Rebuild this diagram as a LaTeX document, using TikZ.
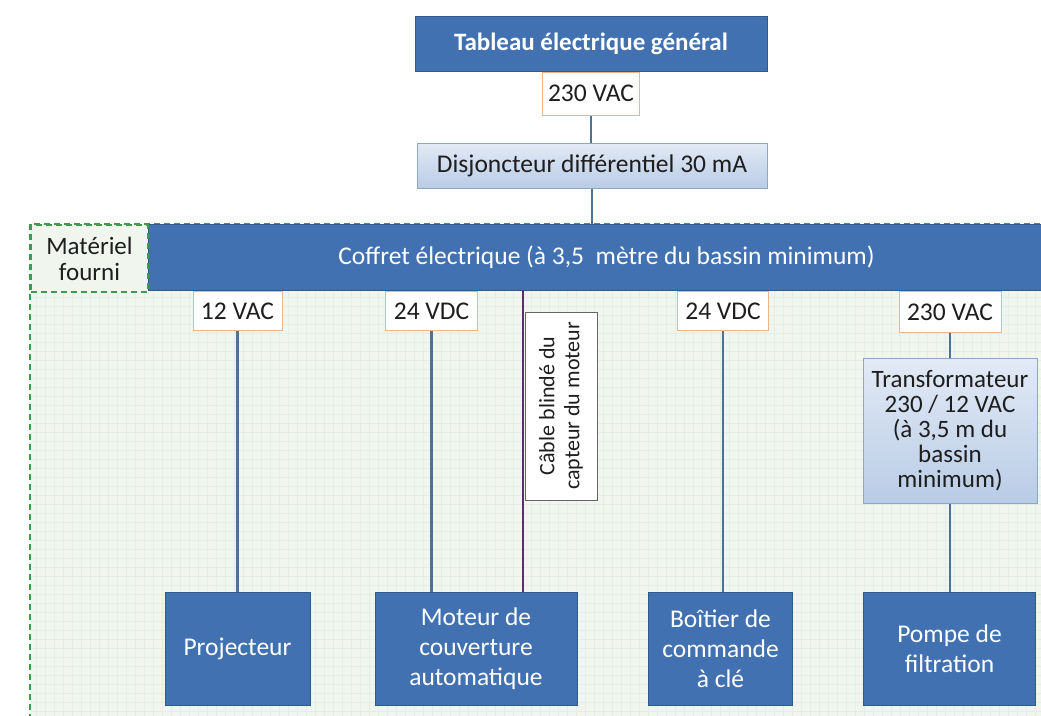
\documentclass[tikz,border=0pt]{standalone}
\usepackage{fontspec}
\setmainfont{Carlito}
\definecolor{dblue}{HTML}{4271B2}
\definecolor{dbord}{HTML}{2F5A8E}
\definecolor{lbtop}{HTML}{E2EAF5}
\definecolor{lbbot}{HTML}{B9CCE6}
\definecolor{lbord}{HTML}{8FA7C4}
\definecolor{orng}{HTML}{EFB58A}
\definecolor{gdash}{HTML}{3F9A4F}
\definecolor{gfill}{HTML}{F0F6EE}
\definecolor{ggrid}{HTML}{E6EEE3}
\definecolor{wire}{HTML}{4E7391}
\definecolor{purp}{HTML}{5A2E6A}
\definecolor{txt}{HTML}{1E1E1E}
\tikzset{
  darkbox/.style={draw=dbord, line width=1pt, fill=dblue, text=white, align=center, inner sep=2pt},
  lightbox/.style={draw=lbord, line width=1pt, top color=lbtop, bottom color=lbbot, text=txt, align=center, inner sep=2pt},
  volt/.style={draw=orng, line width=1pt, fill=white, text=txt, align=center, inner sep=2pt},
  conn/.style={draw=wire, line width=2.2pt},
  fz/.style={font=\fontsize{25.5}{30}\selectfont}
}
\begin{document}
\begin{tikzpicture}[x=1pt,y=-1pt]
\useasboundingbox (0,0) rectangle (1041,715);
\clip (0,0) rectangle (1041,715);
\fill[white] (0,0) rectangle (1041,715);
% supplied-equipment zone
\fill[gfill] (30,224) rectangle (1060,730);
\draw[ggrid, line width=0.5pt, step=9pt] (30,224) grid (1060,730);
\draw[gdash, line width=2pt, dash pattern=on 6pt off 4pt] (30,730) -- (30,224) -- (1060,224);
% top chain
\node[darkbox, minimum width=352pt, minimum height=55pt, font=\fontsize{25}{28}\selectfont\bfseries] (tab) at (591,43.5) {Tableau électrique général};
\node[volt, fz, minimum width=97pt, minimum height=43pt, anchor=north] (v1) at (tab.south) {230 VAC};
\node[lightbox, fz, minimum width=350pt, minimum height=45pt] (dis) at (592,165.5) {Disjoncteur différentiel 30 mA};
\node[darkbox, fz, minimum width=916pt, minimum height=66pt, anchor=north west] (cof) at (148,224) {Coffret électrique (à 3,5\ \ mètre du bassin minimum)};
\node[draw=gdash, line width=2pt, dash pattern=on 6pt off 4pt, fill=gfill, text=txt, align=center, minimum width=117pt, minimum height=67pt, inner sep=1pt, anchor=north west, font=\fontsize{25}{26}\selectfont] (mf) at (30,224) {Matériel\\fourni};
\draw[conn] (v1.south) -- (dis.north -| v1.south);
\draw[conn] (dis.south) -- (cof.north -| dis.south);
% voltage labels
\node[volt, fz, minimum width=89pt, minimum height=39pt, anchor=north] (l1) at (237.5,291) {12 VAC};
\node[volt, fz, minimum width=92pt, minimum height=39pt, anchor=north] (l2) at (431.5,291) {24 VDC};
\node[volt, fz, minimum width=91pt, minimum height=39pt, anchor=north] (l3) at (723,291) {24 VDC};
\node[volt, fz, minimum width=102pt, minimum height=41pt, anchor=north] (l4) at (950,291) {230 VAC};
% loads
\node[darkbox, fz, minimum width=145pt, minimum height=113pt] (proj) at (237.5,648.5) {Projecteur};
\node[darkbox, fz, minimum width=202pt, minimum height=113pt] (mot) at (476,648.5) {Moteur de\\couverture\\automatique};
\node[darkbox, fz, minimum width=144pt, minimum height=113pt] (boi) at (720.5,648.5) {Boîtier de\\commande\\à clé};
\node[darkbox, fz, minimum width=172pt, minimum height=113pt] (pom) at (949.5,648.5) {Pompe de\\filtration};
\node[lightbox, minimum width=174pt, minimum height=145pt, font=\fontsize{25}{25}\selectfont] (tr) at (950,430.5) {Transformateur\\230 / 12 VAC\\(à 3,5 m du\\bassin\\minimum)};
% wires
\draw[conn] (l1.south) -- (proj.north -| l1.south);
\draw[conn] (l2.south) -- (mot.north -| l2.south);
\draw[conn] (l3.south) -- (boi.north -| l3.south);
\draw[conn] (l4.south) -- (tr.north -| l4.south);
\draw[conn] (tr.south -| l4.south) -- (pom.north -| l4.south);
% shielded cable
\coordinate (cab) at (523,290);
\draw[purp, line width=2.2pt] (cab) -- (cab |- mot.north);
\node[draw=gray!80!black, line width=1pt, fill=white, text=txt, align=center, rotate=90, minimum width=188pt, minimum height=72pt, inner sep=1pt, font=\fontsize{22}{25}\selectfont] (clab) at (561,406) {Câble blindé du\\capteur du moteur};
\end{tikzpicture}
\end{document}
